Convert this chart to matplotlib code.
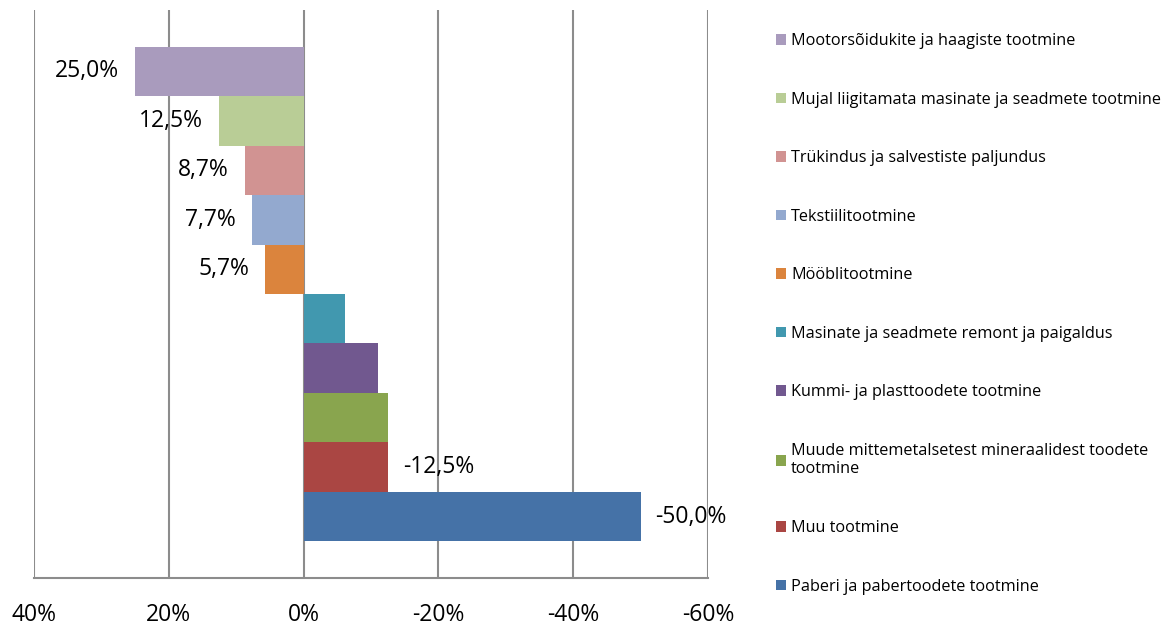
import matplotlib
matplotlib.use("Agg")
import matplotlib.pyplot as plt

# categories from top to bottom
categories = [
    "Mootorsõidukite ja haagiste tootmine",
    "Mujal liigitamata masinate ja seadmete tootmine",
    "Trükindus ja salvestiste paljundus",
    "Tekstiilitootmine",
    "Mööblitootmine",
    "Masinate ja seadmete remont ja paigaldus",
    "Kummi- ja plasttoodete tootmine",
    "Muude mittemetalsetest mineraalidest toodete\ntootmine",
    "Muu tootmine",
    "Paberi ja pabertoodete tootmine",
]
values = [25.0, 12.5, 8.7, 7.7, 5.7, -6.2, -11.1, -12.5, -12.5, -50.0]
value_labels = ["25,0%", "12,5%", "8,7%", "7,7%", "5,7%", None, None, None, "-12,5%", "-50,0%"]
colors = ["#A99BBD", "#B9CD96", "#D19392", "#93A9CF", "#DB843D",
          "#4198AF", "#71588F", "#89A54E", "#AA4643", "#4572A7"]
xticks = [40, 20, 0, -20, -40, -60]

plt.rcParams["font.family"] = ["Open Sans", "DejaVu Sans"]

fig = plt.figure(figsize=(11.68, 6.26), dpi=100)
ax = fig.add_axes([34 / 1168, 1 - 578 / 626, 674 / 1168, 568 / 626])

ypos = list(range(len(categories)))
bars = ax.barh(ypos, values, height=1.0, color=colors, label=categories, zorder=3)

for y, v, lab in zip(ypos, values, value_labels):
    if lab is None:
        continue
    if v > 0:
        ax.annotate(lab, (v, y), xytext=(-16, 0), textcoords="offset pixels",
                    ha="right", va="center", fontsize=16.5, color="black")
    else:
        ax.annotate(lab, (v, y), xytext=(15, 0), textcoords="offset pixels",
                    ha="left", va="center", fontsize=16.5, color="black")

ax.set_xlim(40, -60)
ax.set_ylim(9.5 + 0.74, -0.5 - 0.74)
ax.set_xticks(xticks)
ax.set_xticklabels([f"{t}%" for t in xticks], fontsize=16.5)
ax.set_yticks([])
ax.tick_params(axis="x", length=0, pad=18)
ax.grid(axis="x", color="#8c8c8c", linewidth=1.5, zorder=0)
for s in ["top", "right", "left"]:
    ax.spines[s].set_visible(False)
ax.spines["bottom"].set_color("#8c8c8c")
ax.spines["bottom"].set_linewidth(1.5)

leg = ax.legend(loc="upper left", bbox_to_anchor=(776 / 1168, 1 - 33 / 626),
                bbox_transform=fig.transFigure, frameon=False, fontsize=11.7,
                handlelength=0.62, handleheight=0.62, handletextpad=0.3,
                labelspacing=2.62, borderpad=0, borderaxespad=0)

fig.savefig("out.png", dpi=100)
